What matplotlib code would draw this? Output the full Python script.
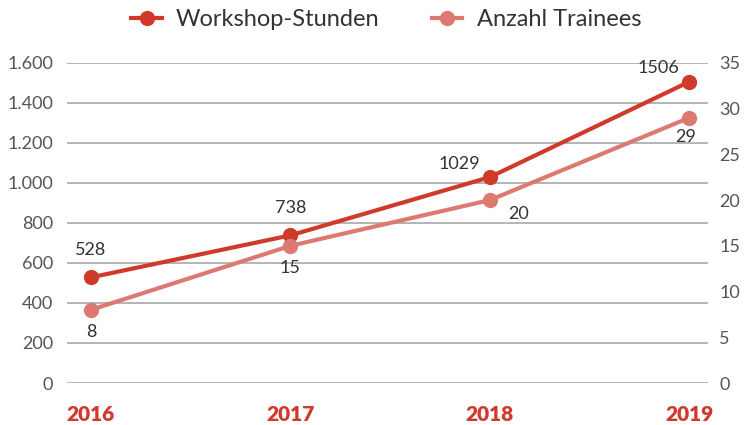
import matplotlib
matplotlib.use("Agg")
import matplotlib.pyplot as plt
from matplotlib.ticker import FuncFormatter

years = ["2016", "2017", "2018", "2019"]
workshop_hours = [528, 738, 1029, 1506]
trainees = [8, 15, 20, 29]
left_ticks = [0, 200, 400, 600, 800, 1000, 1200, 1400, 1600]
right_ticks = [0, 5, 10, 15, 20, 25, 30, 35]

c_dark = "#cf3a2b"
c_light = "#dc7a72"
grey_txt = "#555555"
font = "Lato"

fig = plt.figure(figsize=(7.44, 4.25), dpi=100)
ax = fig.add_axes([0.090, 0.0988, 0.862, 0.7532])
ax2 = ax.twinx()

x = list(range(len(years)))
ax.set_xlim(-0.12, 3.095)
ax.set_ylim(0, 1600)
ax2.set_ylim(0, 35)

for y in left_ticks:
    ax.axhline(y, color="#a8a8a8", lw=1.2, zorder=0)

l1, = ax.plot(x, workshop_hours, color=c_dark, lw=3, marker="o", ms=10, zorder=5,
              label="Workshop-Stunden")
l2, = ax2.plot(x, trainees, color=c_light, lw=3, marker="o", ms=10, zorder=5,
               label="Anzahl Trainees")

for a in (ax, ax2):
    for s in a.spines.values():
        s.set_visible(False)
    a.tick_params(length=0, labelsize=13, labelcolor=grey_txt)
ax.tick_params(axis="y", pad=10)
ax2.tick_params(axis="y", pad=8)

ax.set_yticks(left_ticks)
ax.yaxis.set_major_formatter(FuncFormatter(lambda v, p: f"{int(v):,}".replace(",", ".")))
ax2.set_yticks(right_ticks)
ax.set_xticks(x)
ax.set_xticklabels(years, color=c_dark, fontweight="heavy", fontsize=15, family=font)
ax.tick_params(axis="x", pad=16, labelcolor=c_dark)
for lab in ax.get_yticklabels() + ax2.get_yticklabels():
    lab.set_family(font)

w_off = [(0, 14), (0, 14), (-22, 4), (-22, 4)]
for xi, v, off in zip(x, workshop_hours, w_off):
    ax.annotate(str(v), (xi, v), xytext=off, textcoords="offset points",
                ha="center", va="bottom", fontsize=13, color="#333333", family=font)
t_off = [(0, -10), (0, -10), (21, -4), (-3, -8)]
for xi, v, off in zip(x, trainees, t_off):
    ax2.annotate(str(v), (xi, v), xytext=off, textcoords="offset points",
                 ha="center", va="top", fontsize=13, color="#333333", family=font)

fig.legend(handles=[l1, l2], loc="upper center", bbox_to_anchor=(0.519, 1.028), ncol=2,
           frameon=False, prop={"family": font, "size": 17}, handlelength=1.3,
           handletextpad=0.6, columnspacing=2.2, labelcolor="#333333")

fig.savefig("out.png", dpi=100)
